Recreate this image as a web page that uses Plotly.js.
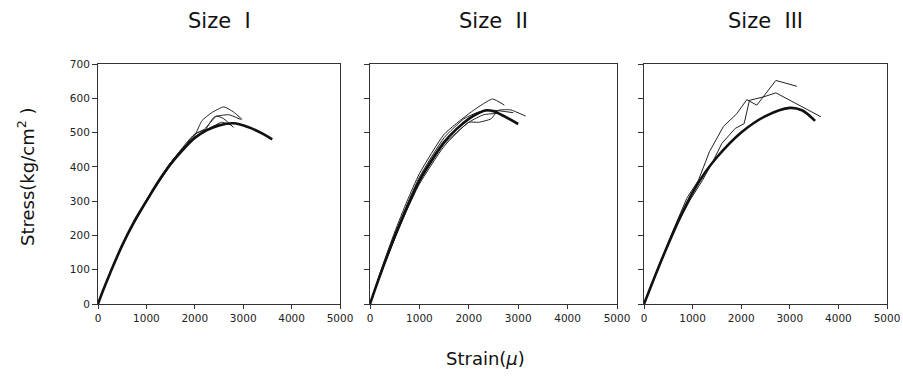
<!DOCTYPE html>
<html>
<head>
<meta charset="utf-8">
<script src="https://cdn.plot.ly/plotly-3.0.1.min.js"></script>
<style>html,body{margin:0;padding:0;background:#fff;}#chart{width:903px;height:376px;}</style>
</head>
<body>
<div id="chart"></div>
<script>
// ---- data (strain in micro-strain, stress in kg/cm^2) ----
const panelTitles = ["Size  I", "Size  II", "Size  III"];
const xTickVals = [0, 1000, 2000, 3000, 4000, 5000];
const yTickVals = [0, 100, 200, 300, 400, 500, 600, 700];

// Size I
const s1ThickX = [0, 100, 250, 500, 750, 1000, 1250, 1500, 1750, 2000, 2250, 2500, 2800, 3100, 3400, 3600];
const s1ThickY = [0, 38, 90, 171, 241, 300, 358, 408, 449, 484, 507, 521, 527, 516, 497, 480];
const s1AX = [0, 250, 500, 1000, 1500, 1800, 2000, 2150, 2350, 2600, 2800, 2980];
const s1AY = [0, 92, 174, 304, 412, 462, 492, 535, 558, 575, 560, 538];
const s1BX = [0, 250, 500, 1000, 1500, 2000, 2200, 2400, 2700, 2950];
const s1BY = [0, 91, 172, 302, 410, 488, 505, 545, 552, 538];
const s1CX = [0, 250, 500, 1000, 1500, 2000, 2200, 2450, 2600, 2800];
const s1CY = [0, 90, 170, 298, 405, 495, 510, 548, 540, 515];
const s1DX = [0, 250, 500, 1000, 1500, 2000, 2300, 2550, 2750];
const s1DY = [0, 92, 173, 303, 412, 496, 512, 530, 522];

// Size II
const s2ThickX = [0, 100, 250, 500, 750, 1000, 1250, 1500, 1750, 2000, 2200, 2350, 2500, 2750, 3000];
const s2ThickY = [0, 42, 102, 197, 282, 360, 420, 472, 510, 540, 557, 565, 562, 545, 525];
const s2AX = [0, 250, 500, 750, 1000, 1500, 2000, 2250, 2480, 2720];
const s2AY = [0, 110, 210, 300, 380, 495, 555, 580, 598, 580];
const s2BX = [0, 250, 500, 750, 1000, 1500, 2000, 2200, 2450, 2600, 2850, 3150];
const s2BY = [0, 100, 190, 275, 350, 460, 530, 530, 540, 565, 566, 548];
const s2CX = [0, 250, 500, 750, 1000, 1500, 1900, 2200, 2500, 2900];
const s2CY = [0, 105, 200, 290, 370, 485, 540, 560, 565, 558];
const s2DX = [0, 250, 500, 750, 1000, 1500, 2000, 2300, 2600];
const s2DY = [0, 100, 192, 278, 356, 466, 530, 552, 556];

// Size III
const s3ThickX = [0, 100, 250, 500, 750, 1000, 1250, 1500, 2000, 2500, 3000, 3250, 3520];
const s3ThickY = [0, 36, 90, 175, 255, 325, 382, 428, 500, 548, 572, 565, 534];
const s3AX = [0, 150, 300, 600, 879, 1120, 1346, 1635, 1909, 2115, 2321, 2713, 3146];
const s3AY = [0, 56, 110, 215, 308, 361, 444, 518, 555, 596, 580, 652, 635];
const s3BX = [0, 150, 300, 600, 948, 1200, 1429, 1600, 1875, 2060, 2170, 2459, 2713, 3640];
const s3BY = [0, 54, 105, 210, 303, 360, 419, 468, 512, 526, 594, 604, 616, 546];

function thick(x, y, ax) {
  return {x: x, y: y, xaxis: 'x' + ax, yaxis: 'y' + ax, mode: 'lines', type: 'scatter',
          line: {color: '#111', width: 2.6, shape: 'spline', smoothing: 1}, hoverinfo: 'skip'};
}
function thin(x, y, ax, smooth) {
  const line = {color: '#222', width: 1};
  if (smooth) { line.shape = 'spline'; line.smoothing = 0.5; }
  return {x: x, y: y, xaxis: 'x' + ax, yaxis: 'y' + ax, mode: 'lines', type: 'scatter',
          line: line, hoverinfo: 'skip'};
}

const traces = [
  thin(s1AX, s1AY, '', true), thin(s1BX, s1BY, '', true), thin(s1CX, s1CY, '', true), thin(s1DX, s1DY, '', true),
  thick(s1ThickX, s1ThickY, ''),
  thin(s2AX, s2AY, '2', true), thin(s2BX, s2BY, '2', true), thin(s2CX, s2CY, '2', true), thin(s2DX, s2DY, '2', true),
  thick(s2ThickX, s2ThickY, '2'),
  thin(s3AX, s3AY, '3', false), thin(s3BX, s3BY, '3', false),
  thick(s3ThickX, s3ThickY, '3')
];

const W = 903, H = 376;
const panelsPx = [[98, 340], [370, 617], [644, 887]];
const yDom = [(H - 304) / H, (H - 64) / H];
const font = "DejaVu Sans, sans-serif";

function xAxis(i) {
  return {
    domain: [panelsPx[i][0] / W, panelsPx[i][1] / W],
    range: [0, 5000], tickvals: xTickVals, ticktext: xTickVals.map(String),
    ticks: 'outside', ticklen: 4, tickwidth: 1, tickcolor: '#333',
    showline: true, linecolor: '#333', linewidth: 1, mirror: true,
    showgrid: false, zeroline: false, automargin: false, fixedrange: true,
    tickfont: {family: font, size: 10.5, color: '#222'},
    anchor: i === 0 ? 'y' : 'y' + (i + 1)
  };
}
function yAxis(i) {
  return {
    domain: yDom, range: [0, 700], tickvals: yTickVals, ticktext: yTickVals.map(String),
    showticklabels: i === 0,
    ticks: 'outside', ticklen: 5, tickwidth: 1, tickcolor: '#333',
    showline: true, linecolor: '#333', linewidth: 1, mirror: true,
    showgrid: false, zeroline: false, automargin: false, fixedrange: true,
    tickfont: {family: font, size: 10.5, color: '#222'},
    anchor: i === 0 ? 'x' : 'x' + (i + 1)
  };
}

const annotations = panelTitles.map((t, i) => ({
  text: t, xref: 'paper', yref: 'paper', showarrow: false,
  x: (panelsPx[i][0] + panelsPx[i][1]) / 2 / W, y: 1 - 21 / H,
  xanchor: 'center', yanchor: 'middle',
  font: {family: font, size: 21, color: '#111'}
}));
annotations.push({
  text: 'Stress(kg/cm<sup>2</sup> )', xref: 'paper', yref: 'paper', showarrow: false,
  x: 26 / W, y: 1 - 177 / H, xanchor: 'center', yanchor: 'middle', textangle: -90,
  font: {family: font, size: 18, color: '#111'}
});
annotations.push({
  text: 'Strain(<i>μ</i>)', xref: 'paper', yref: 'paper', showarrow: false,
  x: 485 / W, y: 1 - 358 / H, xanchor: 'center', yanchor: 'middle',
  font: {family: font, size: 18, color: '#111'}
});

const layout = {
  width: W, height: H, margin: {l: 0, r: 0, t: 0, b: 0},
  paper_bgcolor: '#fff', plot_bgcolor: '#fff', showlegend: false,
  xaxis: xAxis(0), xaxis2: xAxis(1), xaxis3: xAxis(2),
  yaxis: yAxis(0), yaxis2: yAxis(1), yaxis3: yAxis(2),
  annotations: annotations
};

Plotly.newPlot('chart', traces, layout, {staticPlot: true, displayModeBar: false});
</script>
</body>
</html>
